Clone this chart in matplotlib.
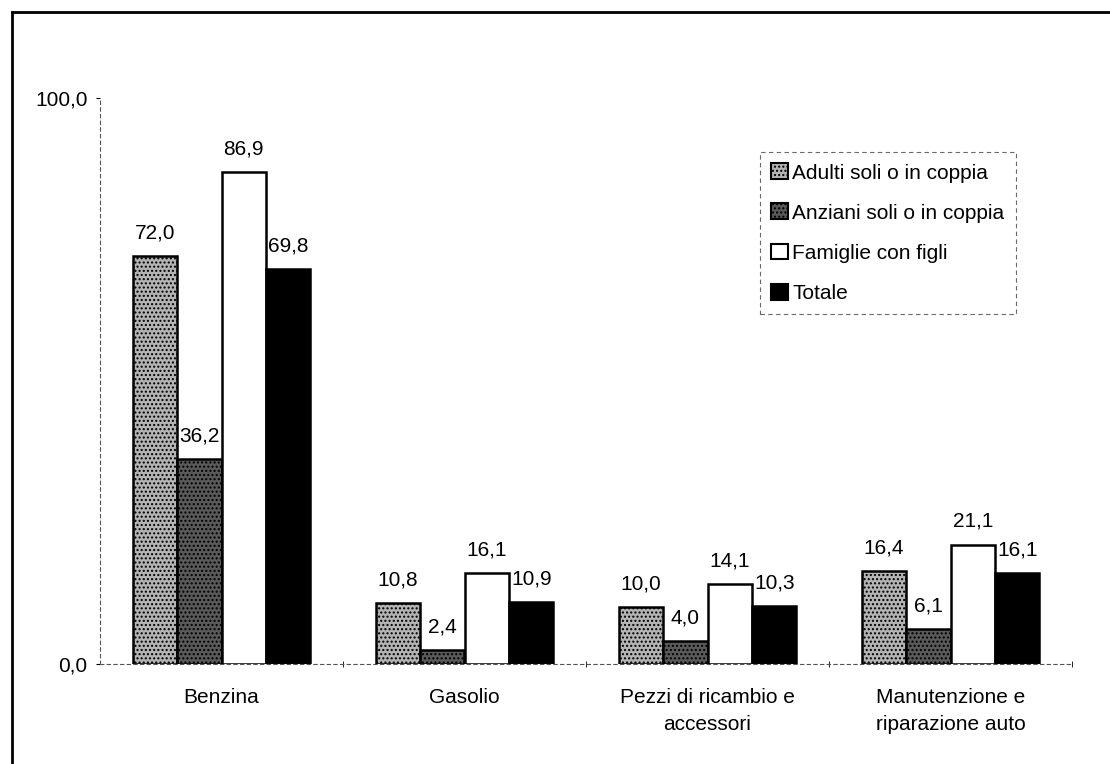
import numpy as np
import matplotlib.pyplot as plt
from matplotlib.lines import Line2D
from matplotlib.patches import Patch

plt.rcParams['font.family'] = ['Liberation Sans', 'DejaVu Sans']
plt.rcParams['hatch.color'] = '#808080'

# Dati
categorie = ['Benzina', 'Gasolio', 'Pezzi di ricambio e\naccessori',
             'Manutenzione e\nriparazione auto']
serie = ['Adulti soli o in coppia', 'Anziani soli o in coppia',
         'Famiglie con figli', 'Totale']
adulti = [72.0, 10.8, 10.0, 16.4]
anziani = [36.2, 2.4, 4.0, 6.1]
famiglie = [86.9, 16.1, 14.1, 21.1]
totale = [69.8, 10.9, 10.3, 16.1]

valori = [adulti, anziani, famiglie, totale]
colori = ['#b4b4b4', '#5a5a5a', 'white', 'black']
tratteggi = ['....', '....', None, None]
fs = 15

fig = plt.figure(figsize=(11.1, 7.64), dpi=100)
ax = fig.add_axes([100 / 1110, 1 - 664 / 764, 972 / 1110, 566 / 764])

x = np.arange(len(categorie))
w = 0.183
for k in range(4):
    pos = x + (k - 1.5) * w
    bars = ax.bar(pos, valori[k], w, color=colori[k], edgecolor='black',
                  linewidth=1.8, hatch=tratteggi[k])
    for b, v in zip(bars, valori[k]):
        ax.text(b.get_x() + b.get_width() / 2, v + 2.4,
                f'{v:.1f}'.replace('.', ','), ha='center', va='bottom',
                fontsize=fs)

ax.set_xlim(-0.5, 3.5)
ax.set_ylim(0, 100)
ax.set_yticks([0, 100])
ax.set_yticklabels(['0,0', '100,0'], fontsize=fs)
ax.set_xticks(x)
ax.set_xticklabels(categorie, fontsize=fs, linespacing=1.55)
ax.set_xticks([0.5, 1.5, 2.5, 3.5], minor=True)
ax.tick_params(axis='x', which='major', length=0, pad=17)
ax.tick_params(axis='x', which='minor', length=4, direction='inout')
ax.tick_params(axis='y', length=3, pad=6)

for s in ['top', 'right']:
    ax.spines[s].set_visible(False)
for s in ['left', 'bottom']:
    ax.spines[s].set_linestyle((0, (3, 3)))
    ax.spines[s].set_linewidth(0.8)
    ax.spines[s].set_color('#555555')

handles = [Patch(facecolor=colori[k], edgecolor='black', hatch=tratteggi[k],
                 linewidth=1.5) for k in range(4)]
leg = ax.legend(handles, serie, loc='upper left',
                bbox_to_anchor=(760 / 1110, 1 - 152 / 764),
                bbox_transform=fig.transFigure, fontsize=fs,
                handlelength=0.8, handleheight=0.8, handletextpad=0.2,
                labelspacing=1.0, borderpad=0.55, borderaxespad=0,
                fancybox=False)
leg.get_frame().set_linestyle((0, (4, 3)))
leg.get_frame().set_edgecolor('#444444')
leg.get_frame().set_linewidth(0.8)

# cornice esterna
fig.add_artist(Line2D([12 / 1110, 12 / 1110], [0, 1 - 12 / 764],
                      transform=fig.transFigure, color='black', linewidth=2))
fig.add_artist(Line2D([12 / 1110, 1], [1 - 12 / 764, 1 - 12 / 764],
                      transform=fig.transFigure, color='black', linewidth=2))

fig.savefig('out.png', dpi=100)
